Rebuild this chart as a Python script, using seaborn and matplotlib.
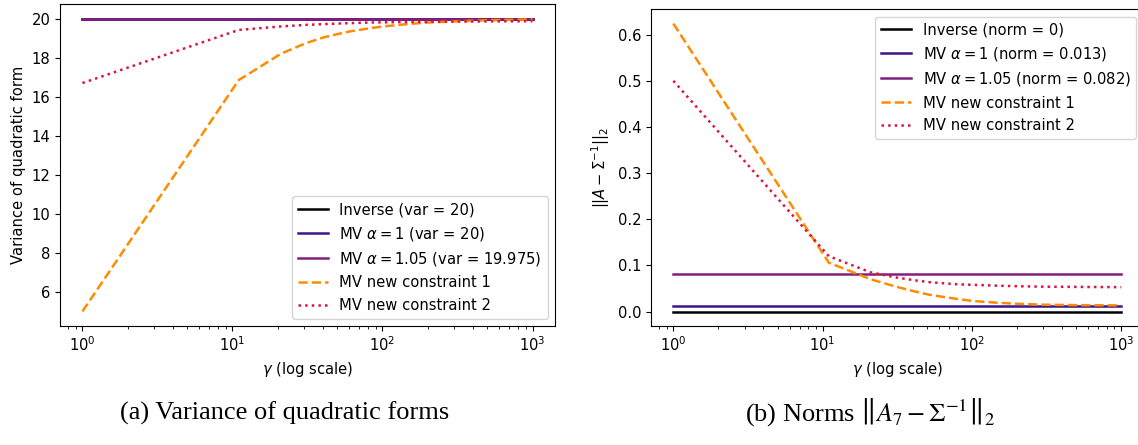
import numpy as np
import pandas as pd
import matplotlib
matplotlib.use("Agg")
import matplotlib.pyplot as plt
import seaborn as sns

# gamma grid (log-spaced view, sampled on a linear grid)
gamma = [1, 11, 21, 31, 41, 51, 61, 81, 101, 151, 201, 301, 501, 1000]

# variance of the quadratic form
var_inverse = 20.0
var_mv_a1 = 20.0
var_mv_a105 = 19.975
var_new1 = [5.0, 16.85, 18.2, 18.75, 19.05, 19.22, 19.35, 19.5, 19.6, 19.73, 19.8, 19.86, 19.92, 19.96]
var_new2 = [16.7, 19.42, 19.6, 19.68, 19.72, 19.75, 19.77, 19.8, 19.81, 19.83, 19.84, 19.85, 19.86, 19.87]

# spectral norm distance to the true inverse
norm_inverse = 0.0
norm_mv_a1 = 0.013
norm_mv_a105 = 0.082
norm_new1 = [0.624, 0.106, 0.07, 0.054, 0.044, 0.037, 0.033, 0.027, 0.023, 0.019, 0.017, 0.015, 0.014, 0.0135]
norm_new2 = [0.50, 0.12, 0.085, 0.074, 0.068, 0.064, 0.062, 0.059, 0.058, 0.056, 0.055, 0.054, 0.0535, 0.053]

colors = ["black", "#3f1488", "#82207e", "darkorange", "crimson"]
styles = ["-", "-", "-", "--", ":"]
widths = [1.8, 1.8, 1.8, 1.8, 1.8]

var_labels = ["Inverse (var = 20)",
              r"MV $\alpha = 1$ (var = 20)",
              r"MV $\alpha = 1.05$ (var = 19.975)",
              "MV new constraint 1",
              "MV new constraint 2"]
norm_labels = ["Inverse (norm = 0)",
               r"MV $\alpha = 1$ (norm = 0.013)",
               r"MV $\alpha = 1.05$ (norm = 0.082)",
               "MV new constraint 1",
               "MV new constraint 2"]

n = len(gamma)
var_series = [[var_inverse] * n, [var_mv_a1] * n, [var_mv_a105] * n, var_new1, var_new2]
norm_series = [[norm_inverse] * n, [norm_mv_a1] * n, [norm_mv_a105] * n, norm_new1, norm_new2]

plt.rcParams["font.size"] = 10.6
fig = plt.figure(figsize=(11.38, 4.45), dpi=100)
ax1 = fig.add_axes([0.0527, 0.2674, 0.435, 0.7236])
ax2 = fig.add_axes([0.572, 0.2674, 0.433, 0.712])

for ax, series, labels in [(ax1, var_series, var_labels), (ax2, norm_series, norm_labels)]:
    for y, lab, c, ls, lw in zip(series, labels, colors, styles, widths):
        sns.lineplot(x=gamma, y=y, ax=ax, color=c, linestyle=ls, linewidth=lw, label=lab)
    ax.set_xscale("log")
    ax.set_xlabel(r"$\gamma$ (log scale)")

ax1.set_ylabel("Variance of quadratic form")
ax2.set_ylabel(r"$||A-\Sigma^{-1}||_2$")
ax1.set_yticks([6, 8, 10, 12, 14, 16, 18, 20])
ax2.set_yticks([0.0, 0.1, 0.2, 0.3, 0.4, 0.5, 0.6])
ax1.legend(loc="lower right")
ax2.legend(loc="upper right")

fig.text(0.25, 0.072, "(a) Variance of quadratic forms", ha="center", va="center",
         family="Liberation Serif", fontsize=19)
fig.text(0.765, 0.072, r"(b) Norms $\left\|A_7 - \Sigma^{-1}\right\|_2$", ha="center", va="center",
         family="Liberation Serif", math_fontfamily="stix", fontsize=19)

fig.savefig("out.png", dpi=100)
